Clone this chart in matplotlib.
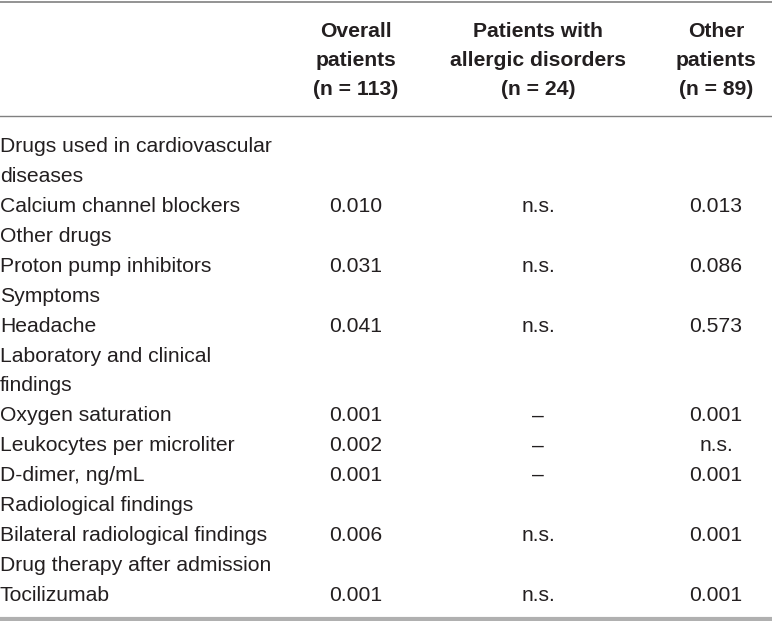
import matplotlib.pyplot as plt

# table content
col_headers = ["Overall\npatients\n(n = 113)",
               "Patients with\nallergic disorders\n(n = 24)",
               "Other\npatients\n(n = 89)"]
row_labels = ["Drugs used in cardiovascular\ndiseases",
              "Calcium channel blockers",
              "Other drugs",
              "Proton pump inhibitors",
              "Symptoms",
              "Headache",
              "Laboratory and clinical\nfindings",
              "Oxygen saturation",
              "Leukocytes per microliter",
              "D-dimer, ng/mL",
              "Radiological findings",
              "Bilateral radiological findings",
              "Drug therapy after admission",
              "Tocilizumab"]
overall = ["", "0.010", "", "0.031", "", "0.041", "", "0.001", "0.002", "0.001", "", "0.006", "", "0.001"]
allergic = ["", "n.s.", "", "n.s.", "", "n.s.", "", "–", "–", "–", "", "n.s.", "", "n.s."]
other = ["", "0.013", "", "0.086", "", "0.573", "", "0.001", "n.s.", "0.001", "", "0.001", "", "0.001"]

W, H = 772, 621
fig = plt.figure(figsize=(W / 100, H / 100), dpi=100)
ax = fig.add_axes([0, 0, 1, 1])
ax.set_xlim(0, W)
ax.set_ylim(H, 0)
ax.axis("off")

fam = "Liberation Sans"
fs = 15.2
txt = "#231f20"
col_x = [356, 538, 716]

# rules
ax.plot([0, W], [1.5, 1.5], color="#808080", lw=1.2)
ax.plot([0, W], [115.5, 115.5], color="#808080", lw=1.0)
ax.plot([0, W], [618.5, 618.5], color="#b0b0b0", lw=3)

# header
for x, h in zip(col_x, col_headers):
    for k, line in enumerate(h.split("\n")):
        ax.text(x, 37 + 29 * k, line, ha="center", va="baseline", fontsize=fs,
                fontweight="bold", family=fam, color=txt)

# body
y0, dy = 152, 29.93
line = 0
for lab, a, b, c in zip(row_labels, overall, allergic, other):
    parts = lab.split("\n")
    for k, p in enumerate(parts):
        ax.text(0, y0 + dy * (line + k), p, ha="left", va="baseline", fontsize=fs,
                family=fam, color=txt)
    y = y0 + dy * line
    for x, v in zip(col_x, [a, b, c]):
        if v:
            ax.text(x, y, v, ha="center", va="baseline", fontsize=fs, family=fam, color=txt)
    line += len(parts)

fig.savefig("out.png", dpi=100)
